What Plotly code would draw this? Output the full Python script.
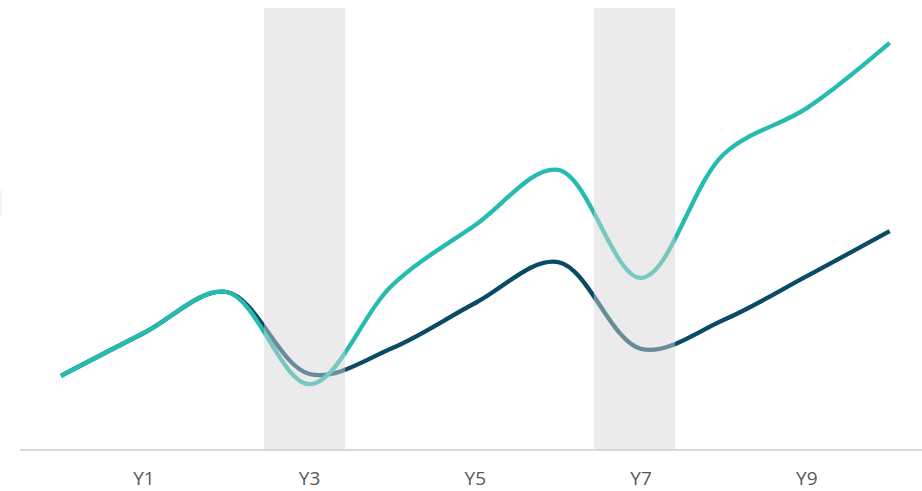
import plotly.graph_objects as go

categories = ["Y0", "Y1", "Y2", "Y3", "Y4", "Y5", "Y6", "Y7", "Y8", "Y9", "Y10"]
tick_labels = ["Y1", "Y3", "Y5", "Y7", "Y9"]
series_a = [16.6, 26.3, 35.6, 14.7, 37.2, 50.8, 63.3, 38.8, 66.9, 77.3, 92.1]
series_b = [16.6, 26.3, 35.6, 17.0, 22.9, 33.1, 42.4, 22.7, 29.3, 39.2, 49.4]
shaded_spans = [(2.45, 3.43), (6.43, 7.41)]

TEAL = "#26bbb0"
NAVY = "#0a4a66"

fig = go.Figure()
fig.add_trace(go.Scatter(x=categories, y=series_b, mode="lines",
                         line=dict(color=NAVY, width=4.3, shape="spline", smoothing=1.0),
                         hoverinfo="skip", showlegend=False))
fig.add_trace(go.Scatter(x=categories, y=series_a, mode="lines",
                         line=dict(color=TEAL, width=4.3, shape="spline", smoothing=1.0),
                         hoverinfo="skip", showlegend=False))

for x0, x1 in shaded_spans:
    fig.add_shape(type="rect", xref="x", yref="paper", x0=x0, x1=x1, y0=0, y1=1,
                  fillcolor="rgb(212,212,212)", opacity=0.47, line=dict(width=0),
                  layer="above")

fig.add_shape(type="line", xref="paper", yref="paper", x0=-0.021, x1=-0.021,
              y0=0.526, y1=0.587, line=dict(color="#ebebeb", width=1))

fig.update_layout(
    width=922, height=491,
    margin=dict(l=20, r=0, t=8, b=42),
    paper_bgcolor="white", plot_bgcolor="white",
    font=dict(family="Open Sans", color="#595959", size=19),
    xaxis=dict(type="category", range=[-0.495, 10.39], tickmode="array",
               tickvals=tick_labels, ticktext=tick_labels,
               showgrid=False, zeroline=False, showline=True,
               linecolor="#d9d9d9", linewidth=1.5, ticks="", ticklabelstandoff=11),
    yaxis=dict(range=[0, 100], showgrid=False, zeroline=False, showline=False,
               showticklabels=False, ticks=""),
)

fig.write_html("out.html")
